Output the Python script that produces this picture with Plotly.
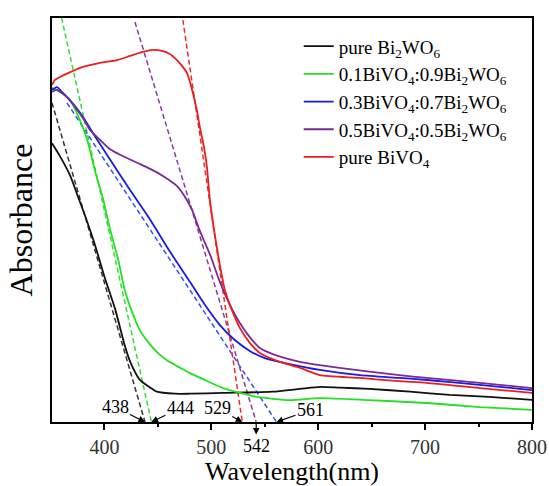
import plotly.graph_objects as go

# ---- data ----
wl_bi2wo6 = [351, 358, 368, 375, 382, 391, 400, 410, 419, 424, 433, 443, 449, 466, 480, 511, 557, 583, 602, 620, 648, 686, 723, 760, 800]
ab_bi2wo6 = [0.69, 0.66, 0.61, 0.56, 0.51, 0.44, 0.36, 0.28, 0.19, 0.15, 0.105, 0.085, 0.075, 0.07, 0.07, 0.072, 0.075, 0.082, 0.087, 0.085, 0.082, 0.075, 0.067, 0.062, 0.055]

wl_01 = [351, 358.5, 368, 377, 384, 391, 399, 405, 413, 419, 427, 433, 443, 452, 458.5, 471, 480, 494, 511, 527, 543, 573, 601.5, 648, 701.5, 751, 800]
ab_01 = [0.827, 0.817, 0.797, 0.748, 0.698, 0.624, 0.550, 0.480, 0.401, 0.327, 0.265, 0.228, 0.191, 0.166, 0.153, 0.134, 0.121, 0.104, 0.084, 0.072, 0.062, 0.054, 0.059, 0.054, 0.047, 0.037, 0.030]

wl_03 = [351, 355.7, 360.3, 365, 372.5, 380, 391, 405, 424, 443, 461, 480, 494, 508, 522, 536, 550, 569, 601.5, 639, 676, 701.5, 751, 800]
ab_03 = [0.822, 0.829, 0.817, 0.804, 0.782, 0.755, 0.708, 0.651, 0.574, 0.5, 0.423, 0.347, 0.290, 0.240, 0.203, 0.176, 0.158, 0.146, 0.129, 0.116, 0.109, 0.104, 0.092, 0.079]

wl_05 = [351, 355.7, 360.3, 365, 372.5, 380, 386.5, 396, 405, 419, 433, 447, 456.6, 468, 475, 482, 489, 499, 508, 517.4, 526.7, 536, 545.4, 559.4, 583, 620, 676, 701.5, 751, 800]
ab_05 = [0.817, 0.822, 0.814, 0.804, 0.780, 0.752, 0.723, 0.698, 0.676, 0.656, 0.639, 0.621, 0.606, 0.584, 0.559, 0.525, 0.475, 0.413, 0.347, 0.290, 0.245, 0.210, 0.183, 0.166, 0.149, 0.134, 0.116, 0.109, 0.097, 0.084]

wl_bivo4 = [351, 353.8, 358.5, 368, 380, 396, 412, 424, 436, 445.4, 454.7, 461.3, 467.8, 473.4, 477.2, 480, 482.8, 486.5, 489.3, 493.1, 495.9, 498.7, 503.3, 508, 512.7, 517.4, 526.7, 536, 545.4, 564, 583, 601.5, 639, 676, 701.5, 751, 800]
ab_bivo4 = [0.834, 0.847, 0.854, 0.866, 0.879, 0.889, 0.896, 0.906, 0.916, 0.921, 0.918, 0.911, 0.896, 0.879, 0.864, 0.842, 0.814, 0.772, 0.730, 0.681, 0.631, 0.550, 0.463, 0.389, 0.327, 0.290, 0.233, 0.196, 0.171, 0.149, 0.134, 0.116, 0.109, 0.101, 0.097, 0.084, 0.072]

# tangent (band-gap extrapolation) lines: start point and x-intercept
tan_x = {"bi2wo6": [351, 438], "01": [360, 444], "03": [365, 561], "05": [428.6, 542], "bivo4": [473.4, 529]}
tan_y = {"bi2wo6": [0.79, 0.0], "01": [1.0, 0.0], "03": [0.79, 0.0], "05": [0.99, 0.0], "bivo4": [0.995, 0.0]}

edge_labels = ["438", "444", "529", "542", "561"]
edge_values = [438, 444, 529, 542, 561]

names = ["pure Bi<sub>2</sub>WO<sub>6</sub>",
         "0.1BiVO<sub>4</sub>:0.9Bi<sub>2</sub>WO<sub>6</sub>",
         "0.3BiVO<sub>4</sub>:0.7Bi<sub>2</sub>WO<sub>6</sub>",
         "0.5BiVO<sub>4</sub>:0.5Bi<sub>2</sub>WO<sub>6</sub>",
         "pure BiVO<sub>4</sub>"]
keys = ["bi2wo6", "01", "03", "05", "bivo4"]
xs = [wl_bi2wo6, wl_01, wl_03, wl_05, wl_bivo4]
ys = [ab_bi2wo6, ab_01, ab_03, ab_05, ab_bivo4]
colors = ["#111111", "#22e022", "#1a1ae6", "#7a2a96", "#ee1c1c"]
dash_colors = ["#333333", "#33dd33", "#3355ee", "#8a3aa6", "#ee2a2a"]

FONT = "Liberation Serif"

fig = go.Figure()
for k, c in zip(keys, dash_colors):
    fig.add_trace(go.Scatter(x=tan_x[k], y=tan_y[k], mode="lines", showlegend=False,
                             line=dict(color=c, width=1.5, dash="5px,3px"), hoverinfo="skip"))
for n, k, x, y, c in zip(names, keys, xs, ys, colors):
    fig.add_trace(go.Scatter(x=x, y=y, mode="lines", name=n, legendgroup=k,
                             line=dict(color=c, width=1.8, shape="spline", smoothing=0.6)))

# annotation offsets (ax, ay) in pixels and which end holds the head
offs = [(-30, -15, "end"), (29, -14, "end"), (-25, -14, "end"), (0, 24, "start"), (34, -12, "end")]
for lab, v, (ax, ay, side) in zip(edge_labels, edge_values, offs):
    fig.add_annotation(x=v, y=0, xref="x", yref="y", text=lab, showarrow=True,
                       ax=ax, ay=ay, arrowside=side, arrowhead=2, startarrowhead=2,
                       arrowsize=1.1, startarrowsize=1.1, arrowwidth=1.2, arrowcolor="#000",
                       font=dict(family=FONT, size=18, color="#000"))

fig.update_layout(
    width=549, height=486,
    margin=dict(l=52, r=17, t=18, b=64, autoexpand=False),
    paper_bgcolor="white", plot_bgcolor="white",
    font=dict(family=FONT, color="#000"),
    showlegend=True,
    legend=dict(x=0.514, y=0.977, xanchor="left", yanchor="top", bgcolor="rgba(0,0,0,0)",
                font=dict(family=FONT, size=19, color="#000"), tracegroupgap=0),
    xaxis=dict(range=[351, 800], tickvals=[400, 500, 600, 700, 800], ticks="outside", ticklen=6,
               tickwidth=1.5, tickcolor="#000", showline=True, linecolor="#000", linewidth=1.5,
               mirror=True, showgrid=False, zeroline=False, automargin=True,
               tickfont=dict(family=FONT, size=20, color="#333"),
               minor=dict(dtick=50, tick0=350, ticks="outside", ticklen=3, tickcolor="#000"),
               title=dict(text="Wavelength(nm)", font=dict(family=FONT, size=26, color="#000"), standoff=14)),
    yaxis=dict(range=[0, 1.0], showticklabels=False, ticks="", showline=True, linecolor="#000",
               linewidth=1.5, mirror=True, showgrid=False, zeroline=False, automargin=False,
               title=dict(text="Absorbance", font=dict(family=FONT, size=32, color="#000"), standoff=8)),
)

fig.write_html("out.html")
